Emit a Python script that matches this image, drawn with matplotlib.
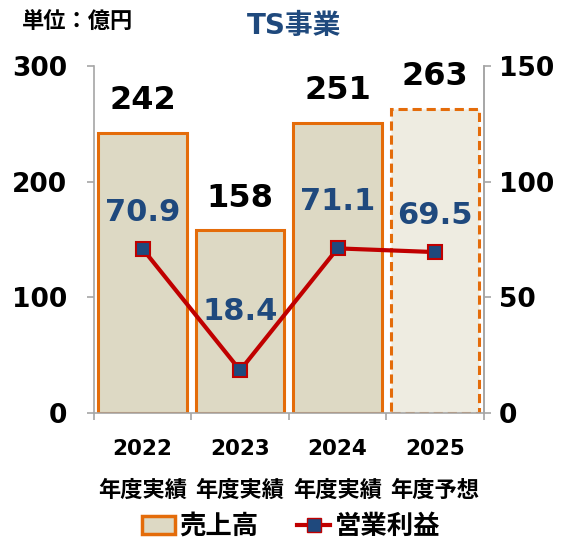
import matplotlib
matplotlib.use('Agg')
import matplotlib.pyplot as plt
from matplotlib.patches import Patch
from matplotlib.lines import Line2D
import matplotlib.transforms as mtransforms

plt.rcParams['font.family'] = ['DejaVu Sans', 'Noto Sans CJK JP']
plt.rcParams['font.weight'] = 'bold'
jp = ['Noto Sans CJK JP', 'DejaVu Sans']

# データ
years = ['2022', '2023', '2024', '2025']
sub_labels = ['年度実績', '年度実績', '年度実績', '年度予想']
sales = [242, 158, 251, 263]
profit = [70.9, 18.4, 71.1, 69.5]
profit_offsets = [26, 42, 34, 26]  # ラベルの縦位置 (pt)

bar_fill = '#DDD9C4'
bar_fill_fc = '#EEECE1'
bar_edge = '#E46C0A'
line_col = '#C00000'
blue = '#1F497D'
grey = '#A6A6A6'

fig = plt.figure(figsize=(5.76, 5.44), dpi=100)
ax = fig.add_axes([0.163, 0.241, 0.677, 0.638])
x = list(range(len(years)))

bars = ax.bar(x, sales, width=0.91, color=bar_fill, edgecolor=bar_edge, linewidth=2.2, zorder=2)
bars[-1].set_facecolor(bar_fill_fc)
bars[-1].set_linestyle((0, (3, 1.6)))

for xi, v in zip(x, sales):
    ax.annotate(str(v), (xi, v), xytext=(0, 23), textcoords='offset points',
                ha='center', va='center', fontsize=23, fontweight='bold', color='black')

ax.set_xlim(-0.5, 3.5)
ax.set_ylim(0, 300)
ax.set_yticks([0, 100, 200, 300])
ax.tick_params(axis='y', labelsize=19, length=5, pad=14, color=grey, width=1.2)
ax.set_xticks(x)
ax.set_xticklabels([])
ax.tick_params(axis='x', which='major', length=0)
ax.set_xticks([-0.5, 0.5, 1.5, 2.5, 3.5], minor=True)
ax.tick_params(axis='x', which='minor', length=5, color=grey, width=1.2)
ax.spines['top'].set_visible(False)
for s in ['left', 'right', 'bottom']:
    ax.spines[s].set_color(grey)
    ax.spines[s].set_linewidth(1.2)

trans = mtransforms.blended_transform_factory(ax.transData, ax.transAxes)
for xi, y, sl in zip(x, years, sub_labels):
    ax.text(xi, -0.104, y, transform=trans, ha='center', va='center', fontsize=15.5, fontweight='bold')
    ax.text(xi, -0.222, sl, transform=trans, ha='center', va='center', fontsize=16,
            fontweight='bold', family=jp)

ax2 = ax.twinx()
ax2.set_ylim(0, 150)
ax2.set_yticks([0, 50, 100, 150])
ax2.tick_params(axis='y', labelsize=19, length=5, pad=6, color=grey, width=1.2)
for s in ['top', 'left', 'bottom']:
    ax2.spines[s].set_visible(False)
ax2.spines['right'].set_color(grey)
ax2.spines['right'].set_linewidth(1.2)

ax2.plot(x, profit, color=line_col, linewidth=3, marker='s', markersize=10,
         markerfacecolor=blue, markeredgecolor=line_col, markeredgewidth=1.5, zorder=3)
for xi, v, off in zip(x, profit, profit_offsets):
    ax2.annotate(f'{v:.1f}', (xi, v), xytext=(0, off), textcoords='offset points',
                 ha='center', va='center', fontsize=22, fontweight='bold', color=blue)

fig.text(0.038, 0.958, '単位：億円', fontsize=16, fontweight='bold', ha='left', va='center', family=jp)
fig.text(0.51, 0.952, 'TS事業', fontsize=20, fontweight='bold', color=blue, ha='center', va='center')

handles = [Patch(facecolor=bar_fill, edgecolor=bar_edge, linewidth=2.5),
           Line2D([0], [0], color=line_col, linewidth=3, marker='s', markersize=10,
                  markerfacecolor=blue, markeredgecolor=line_col)]
fig.legend(handles, ['売上高', '営業利益'], loc='center', ncol=2, frameon=False,
           prop={'size': 19, 'weight': 'bold', 'family': jp}, bbox_to_anchor=(0.505, 0.032),
           handlelength=1.25, columnspacing=1.5, handletextpad=0.15)

fig.savefig('out.png', dpi=100)
